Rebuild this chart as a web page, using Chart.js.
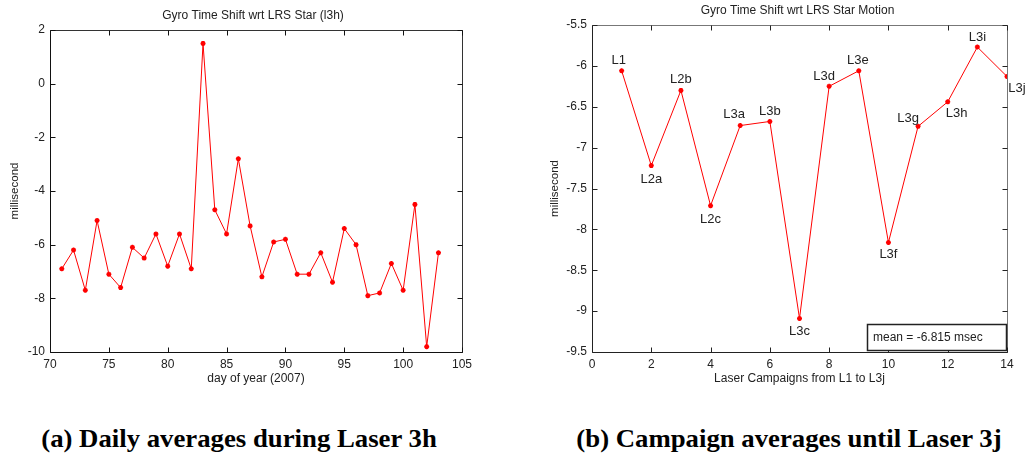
<!DOCTYPE html>
<html>
<head>
<meta charset="utf-8">
<script src="https://cdn.jsdelivr.net/npm/chart.js@4.4.1/dist/chart.umd.min.js"></script>
<style>
  body { margin: 0; background: #fff; width: 1025px; height: 458px; position: relative; overflow: hidden; }
  canvas { position: absolute; top: 0; }
  #leftChart { left: 0; }
  #rightChart { left: 530px; }
  .caption {
    position: absolute; top: 425px; line-height: 28px; white-space: nowrap;
    font-family: "Liberation Serif", "Times New Roman", serif; font-weight: bold; font-size: 25px; color: #000;
    transform: translateX(-50%) scaleX(1.07);
  }
</style>
</head>
<body>
<canvas id="leftChart" width="520" height="400"></canvas>
<canvas id="rightChart" width="495" height="400"></canvas>
<div class="caption" style="left:239px">(a) Daily averages during Laser 3h</div>
<div class="caption" style="left:789px">(b) Campaign averages until Laser 3j</div>

<script>
// ======================
// DATA
// ======================

const days = [71, 72, 73, 74, 75, 76, 77, 78, 79, 80, 81, 82, 83, 84, 85, 86, 87,
              88, 89, 90, 91, 92, 93, 94, 95, 96, 97, 98, 99, 100, 101, 102, 103];

const dailyShift = [-6.9, -6.2, -7.7, -5.1, -7.1, -7.6, -6.1, -6.5, -5.6, -6.8, -5.6, -6.9, 1.5, -4.7, -5.6, -2.8, -5.3,
                    -7.2, -5.9, -5.8, -7.1, -7.1, -6.3, -7.4, -5.4, -6.0, -7.9, -7.8, -6.7, -7.7, -4.5, -9.8, -6.3];

const dayTicks = [70, 75, 80, 85, 90, 95, 100, 105];
const dailyShiftTicks = [-10, -8, -6, -4, -2, 0, 2];

const campaigns = [1, 2, 3, 4, 5, 6, 7, 8, 9, 10, 11, 12, 13, 14];

const campaignNames = ["L1", "L2a", "L2b", "L2c", "L3a", "L3b", "L3c",
                       "L3d", "L3e", "L3f", "L3g", "L3h", "L3i", "L3j"];

const campaignShift = [-6.06, -7.22, -6.30, -7.71, -6.73, -6.68, -9.09,
                       -6.25, -6.06, -8.16, -6.74, -6.44, -5.77, -6.13];

const campaignTicks = [0, 2, 4, 6, 8, 10, 12, 14];
const campaignShiftTicks = [-9.5, -9, -8.5, -8, -7.5, -7, -6.5, -6, -5.5];

const meanText = "mean = -6.815 msec";


// ======================
// HELPERS
// ======================

const FONT = "Arial, 'Liberation Sans', sans-serif";
const TEXT = "#222";

// label placement around each campaign point (dx, dy)
const labelOffsets = {
    L1: [-3, -10], L2a: [0, 14], L2b: [0, -11], L2c: [0, 14],
    L3a: [-6, -11], L3b: [0, -10], L3c: [0, 13], L3d: [-5, -10],
    L3e: [-1, -10], L3f: [0, 12], L3g: [-10, -8], L3h: [9, 12],
    L3i: [0, -10], L3j: [10, 12]
};

// box, inward ticks and title, drawn like the original plotting tool
const matlabFrame = {
    id: "matlabFrame",
    afterDatasetsDraw(chart, args, opts) {
        const { ctx, chartArea: a, scales: { x, y } } = chart;
        ctx.save();
        ctx.lineWidth = 1;

        const L = Math.round(a.left) + 0.5, R = Math.round(a.right) + 0.5;
        const T = Math.round(a.top) + 0.5, B = Math.round(a.bottom) + 0.5;

        ctx.strokeStyle = opts.edgeColor;
        ctx.beginPath();
        ctx.moveTo(L, T); ctx.lineTo(R, T); ctx.lineTo(R, B);
        ctx.stroke();

        ctx.strokeStyle = opts.axisColor;
        ctx.beginPath();
        ctx.moveTo(L, T); ctx.lineTo(L, B); ctx.lineTo(R, B);
        ctx.stroke();

        ctx.beginPath();
        x.ticks.forEach(t => {
            const px = Math.round(x.getPixelForValue(t.value)) + 0.5;
            ctx.moveTo(px, B); ctx.lineTo(px, B - opts.tick);
            ctx.moveTo(px, T); ctx.lineTo(px, T + opts.tick);
        });
        y.ticks.forEach(t => {
            const py = Math.round(y.getPixelForValue(t.value)) + 0.5;
            ctx.moveTo(L, py); ctx.lineTo(L + opts.tick, py);
            ctx.moveTo(R, py); ctx.lineTo(R - opts.tick, py);
        });
        ctx.stroke();

        ctx.fillStyle = TEXT;
        ctx.font = "12px " + FONT;
        ctx.textAlign = "center";
        ctx.textBaseline = "middle";
        ctx.fillText(opts.title, (a.left + a.right) / 2 + opts.titleDx, opts.titleY);

        ctx.restore();
    }
};

// campaign names next to the points + mean box
const campaignLabels = {
    id: "campaignLabels",
    afterDatasetsDraw(chart, args, opts) {
        if (!opts.names) return;
        const { ctx, chartArea: a } = chart;
        const meta = chart.getDatasetMeta(0);
        ctx.save();
        ctx.fillStyle = TEXT;
        ctx.font = "13px " + FONT;
        ctx.textAlign = "center";
        ctx.textBaseline = "middle";
        meta.data.forEach((pt, i) => {
            const name = opts.names[i];
            const off = labelOffsets[name];
            ctx.fillText(name, pt.x + off[0], pt.y + off[1]);
        });

        // mean box
        const w = 139, h = 26;
        const bx = Math.round(a.right) - w - 1, by = Math.round(a.bottom) - h - 2;
        ctx.fillStyle = "#fff";
        ctx.fillRect(bx, by, w, h);
        ctx.strokeStyle = "#222";
        ctx.lineWidth = 1.5;
        ctx.strokeRect(bx + 0.5, by + 0.5, w, h);
        ctx.fillStyle = TEXT;
        ctx.font = "12px " + FONT;
        ctx.textAlign = "left";
        ctx.fillText(opts.mean, bx + 6, by + h / 2 + 1);
        ctx.restore();
    }
};

function fixedTicks(values) {
    return function (scale) {
        scale.ticks = values.map(v => ({ value: v }));
    };
}

function buildChart(canvasId, xs, ys, cfg) {
    return new Chart(document.getElementById(canvasId), {
        type: "line",
        data: {
            datasets: [{
                data: xs.map((v, i) => ({ x: v, y: ys[i] })),
                borderColor: "#ff0000",
                backgroundColor: "#ff0000",
                borderWidth: 1,
                pointStyle: "star",
                pointRadius: 2.5,
                pointBorderWidth: 1.5,
                tension: 0
            }]
        },
        options: {
            responsive: false,
            animation: false,
            devicePixelRatio: 1,
            layout: { padding: cfg.padding },
            plugins: {
                legend: { display: false },
                tooltip: { enabled: false },
                matlabFrame: cfg.frame,
                campaignLabels: cfg.labels || {}
            },
            scales: {
                x: {
                    type: "linear",
                    min: cfg.xTicks[0],
                    max: cfg.xTicks[cfg.xTicks.length - 1],
                    afterBuildTicks: fixedTicks(cfg.xTicks),
                    afterFit: s => { s.height = 38; },
                    grid: { display: false, drawTicks: false },
                    border: { display: false },
                    ticks: { color: TEXT, font: { family: FONT, size: 12 }, padding: 5, maxRotation: 0, autoSkip: false },
                    title: { display: true, text: cfg.xTitle, color: TEXT, font: { family: FONT, size: 12 }, padding: { top: 0, bottom: 4 } }
                },
                y: {
                    type: "linear",
                    min: cfg.yTicks[0],
                    max: cfg.yTicks[cfg.yTicks.length - 1],
                    afterBuildTicks: fixedTicks(cfg.yTicks),
                    afterFit: s => { s.width = cfg.yWidth; },
                    grid: { display: false, drawTicks: false },
                    border: { display: false },
                    ticks: { color: TEXT, font: { family: FONT, size: 12 }, padding: 5, autoSkip: false,
                             callback: v => String(v) },
                    title: { display: true, text: "millisecond", color: TEXT, font: { family: FONT, size: 11.5 }, padding: { top: cfg.yTitlePad, bottom: 0 } }
                }
            }
        },
        plugins: [matlabFrame, campaignLabels]
    });
}


// ======================
// LEFT CHART
// ======================

buildChart("leftChart", days, dailyShift, {
    xTicks: dayTicks,
    yTicks: dailyShiftTicks,
    xTitle: "day of year (2007)",
    yWidth: 50,
    yTitlePad: 8,
    padding: { top: 30, left: 0, right: 58, bottom: 10 },
    frame: { title: "Gyro Time Shift wrt LRS Star (l3h)", titleY: 16, titleDx: -3,
             tick: 5, axisColor: "#111", edgeColor: "#333" }
});


// ======================
// RIGHT CHART
// ======================

buildChart("rightChart", campaigns, campaignShift, {
    xTicks: campaignTicks,
    yTicks: campaignShiftTicks,
    xTitle: "Laser Campaigns from L1 to L3j",
    yWidth: 62,
    yTitlePad: 18,
    padding: { top: 25, left: 0, right: 18, bottom: 10 },
    frame: { title: "Gyro Time Shift wrt LRS Star Motion", titleY: 11, titleDx: -2,
             tick: 5, axisColor: "#222", edgeColor: "#777" },
    labels: { names: campaignNames, mean: meanText }
});
</script>
</body>
</html>
